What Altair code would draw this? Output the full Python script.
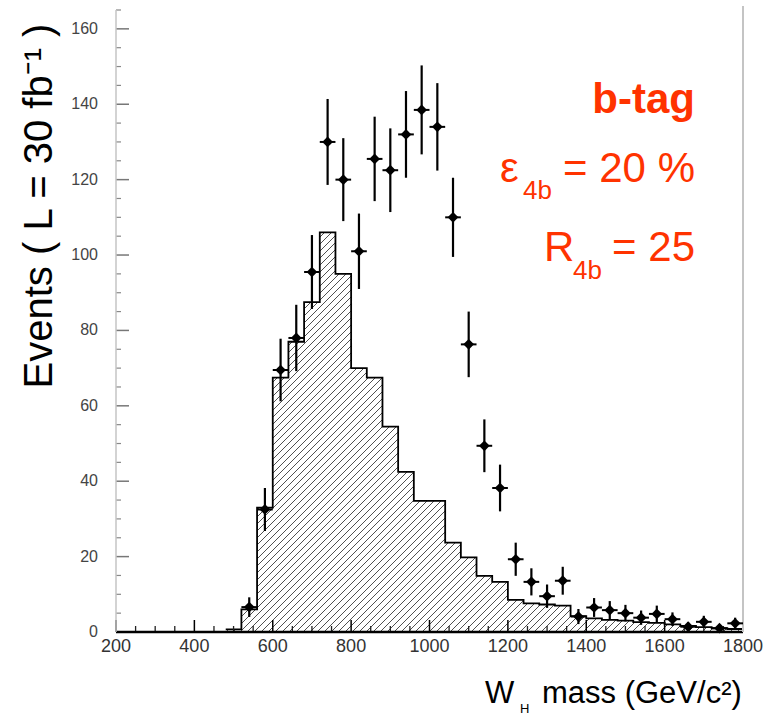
import altair as alt
import pandas as pd

# ---------------- data ----------------
# background histogram, 40 GeV bins (left edges) and contents
hist_edges = [480, 520, 560, 600, 640, 680, 720, 760, 800, 840, 880, 920, 960,
              1000, 1040, 1080, 1120, 1160, 1200, 1240, 1280, 1320, 1360, 1400,
              1440, 1480, 1520, 1560, 1600, 1640, 1680, 1720, 1760]
hist_counts = [0.7, 6, 33, 67.5, 77, 87.5, 106, 95, 70, 67.5, 54.5, 42.5, 34.8,
               34.8, 23.7, 19.8, 14.9, 13.3, 8.5, 7.6, 7.3, 7.0, 4.2, 3.6,
               3.2, 3.0, 2.6, 2.4, 2.0, 1.6, 1.3, 1.0, 0.8]
hist_end = 1800

# data points (signal + background), bin centres, contents, errors
pt_mass = [540, 580, 620, 660, 700, 740, 780, 820, 860, 900, 940, 980, 1020,
           1060, 1100, 1140, 1180, 1220, 1260, 1300, 1340, 1380, 1420, 1460,
           1500, 1540, 1580, 1620, 1660, 1700, 1740, 1780]
pt_counts = [6.6, 32.5, 69.5, 78, 95.5, 130, 120, 101, 125.5, 122.5, 132, 138.5,
             134, 110, 76.3, 49.4, 38.2, 19.3, 13.3, 9.5, 13.6, 4.1, 6.5, 5.8,
             5.0, 3.8, 4.8, 3.4, 1.4, 2.7, 1.0, 2.3]
pt_err = [2.6, 5.7, 8.3, 8.8, 9.8, 11.4, 11.0, 10.0, 11.2, 11.1, 11.5, 11.8,
          11.6, 10.5, 8.7, 7.0, 6.2, 4.4, 3.6, 3.1, 3.7, 2.0, 2.5, 2.4,
          2.2, 1.9, 2.2, 1.8, 1.2, 1.6, 1.0, 1.5]
bin_half = 20

x_ticks = list(range(200, 1801, 200))
x_minor = [v for v in range(200, 1801, 50) if v % 200]
y_ticks = list(range(0, 161, 20))
y_minor = [v for v in range(0, 166, 5) if v % 20]

# ---------------- layout ----------------
PW, PH = 627, 622
XD = [200, 1800]
YD = [0, 165]
FONT = "Liberation Sans"
RED = "#ff3300"
HATCH = "#505050"

xs = alt.Scale(domain=XD, nice=False, zero=False)
ys = alt.Scale(domain=YD, nice=False)

hist = pd.DataFrame({"edge": hist_edges + [hist_end],
                     "count": hist_counts + [hist_counts[-1]]})
pts = pd.DataFrame({"m": pt_mass, "c": pt_counts, "e": pt_err})
pts["lo"] = pts["c"] - pts["e"]
pts["hi"] = pts["c"] + pts["e"]
pts["xl"] = pts["m"] - bin_half
pts["xh"] = pts["m"] + bin_half

# hatch pattern as a striped linear gradient over the area's bounding box
W = (hist_end - hist_edges[0]) / (XD[1] - XD[0]) * PW
H = max(hist_counts) / (YD[1] - YD[0]) * PH
gx2 = (W + H) * W / (W * W + H * H)
gy2 = (W + H) * H / (W * W + H * H)
period = 7.0
nlines = int(round((W + H) / period))
frac = 0.2
stops = []
for k in range(nlines):
    a = k / nlines
    b = (k + frac) / nlines
    stops += [alt.GradientStop(offset=a, color="white"),
              alt.GradientStop(offset=a, color=HATCH),
              alt.GradientStop(offset=b, color=HATCH),
              alt.GradientStop(offset=b, color="white")]
stops.append(alt.GradientStop(offset=1, color="white"))
grad = alt.LinearGradient(gradient="linear", stops=stops, x1=0, y1=0, x2=gx2, y2=gy2)

X = lambda f: alt.X(f, scale=xs, axis=None)
Y = lambda f: alt.Y(f, scale=ys, axis=None)

area = alt.Chart(hist).mark_area(interpolate="step-after", fill=grad).encode(
    x=X("edge:Q"), y=Y("count:Q"))

outline = alt.Chart(hist).mark_line(interpolate="step-after", color="black",
                                    strokeWidth=1.8).encode(
    x=X("edge:Q"), y=Y("count:Q"))

def xtick(vals, length, color, w):
    return alt.Chart(pd.DataFrame({"v": vals})).mark_rule(color=color, strokeWidth=w).encode(
        x=X("v:Q"), y=alt.value(PH), y2=alt.value(PH - length))

def ytick(vals, length, color, w):
    return alt.Chart(pd.DataFrame({"v": vals})).mark_rule(color=color, strokeWidth=w).encode(
        y=Y("v:Q"), x=alt.value(0), x2=alt.value(length))

ticks = [xtick(x_ticks, 12, "black", 1.5), xtick(x_minor, 6, "#222", 1.3),
         ytick(y_ticks, 13, "#777", 1.5), ytick(y_minor, 5, "#888", 1.2)]

x_labels = alt.Chart(pd.DataFrame({"v": x_ticks})).mark_text(
    baseline="top", fontSize=18, font=FONT, color="#333").encode(
    x=X("v:Q"), y=alt.value(PH + 6), text=alt.Text("v:Q", format="d"))
y_labels = alt.Chart(pd.DataFrame({"v": y_ticks})).mark_text(
    align="right", baseline="middle", fontSize=16, font=FONT, color="#444").encode(
    y=Y("v:Q"), x=alt.value(-18), text=alt.Text("v:Q", format="d"))

x_line = alt.Chart(pd.DataFrame({"a": [XD[0]], "b": [XD[1]]})).mark_rule(
    color="black", strokeWidth=2.5).encode(x=X("a:Q"), x2="b:Q", y=alt.value(PH))
y_line = alt.Chart(pd.DataFrame({"a": [XD[0]]})).mark_rule(
    color="#c4c4c4", strokeWidth=1.5).encode(x=X("a:Q"), y=alt.value(0), y2=alt.value(PH))
border = alt.Chart(pd.DataFrame({"v": [XD[1]]})).mark_rule(
    color="#c4c4c4", strokeWidth=2).encode(x=X("v:Q"), y=alt.value(-4), y2=alt.value(PH))

xerr = alt.Chart(pts).mark_rule(color="black", strokeWidth=2).encode(
    x=X("xl:Q"), x2="xh:Q", y=Y("c:Q"))
yerr = alt.Chart(pts).mark_rule(color="black", strokeWidth=2.2).encode(
    x=X("m:Q"), y=Y("lo:Q"), y2="hi:Q")
marks = alt.Chart(pts).mark_point(shape="diamond", filled=True, size=115,
                                  color="black", opacity=1).encode(
    x=X("m:Q"), y=Y("c:Q"))

def label(txt, x, y, size, align="left", color=RED, weight="normal", angle=0):
    kw = dict(align=align, baseline="alphabetic", fontSize=size, font=FONT,
              color=color, fontWeight=weight)
    if angle:
        kw["angle"] = angle
    return alt.Chart(pd.DataFrame({"t": [txt]})).mark_text(**kw).encode(
        text="t:N", x=alt.value(x), y=alt.value(y))

texts = [
    label("b-tag", 579, 103, 42, align="right", weight="bold"),
    label("\u03b5", 384, 172, 42),
    label("4b", 407, 189, 26),
    label("= 20 %", 579, 172, 42, align="right"),
    label("R", 428, 251, 42),
    label("4b", 457, 269, 26),
    label("= 25", 579, 251, 42, align="right"),
    label("Events ( L = 30 fb\u207b\u00b9 )", -64, 196, 40, align="center",
          color="black", angle=270),
    label("W", 369, 693, 31, color="black"),
    label("H", 404, 703, 13, color="black"),
    label("mass (GeV/c\u00b2)", 426, 693, 31, color="black"),
]

chart = alt.layer(area, outline, *ticks, x_line, y_line, border, x_labels, y_labels,
                  xerr, yerr, marks, *texts).properties(
    width=PW, height=PH,
    autosize=alt.AutoSizeParams(type="none"),
    padding={"left": 116, "top": 10, "right": 33, "bottom": 86},
    background="white",
).configure_view(strokeWidth=0)

chart.save("out.html", embed_options={"renderer": "svg", "actions": False})
